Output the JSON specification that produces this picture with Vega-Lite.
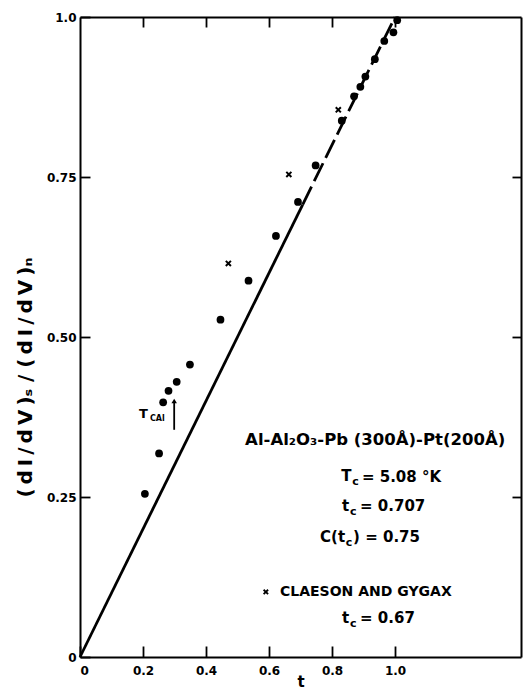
{
  "$schema": "https://vega.github.io/schema/vega-lite/v6.json",
  "width": 441,
  "height": 640,
  "autosize": {"type": "none"},
  "padding": {"left": 80, "top": 17, "right": 5, "bottom": 37},
  "background": "white",
  "config": {
    "view": {"stroke": null},
    "font": "DejaVu Sans",
    "axis": {
      "domainColor": "black",
      "domainWidth": 2,
      "tickColor": "black",
      "tickWidth": 1.8,
      "grid": false,
      "labelColor": "black",
      "titleColor": "black",
      "labelFont": "DejaVu Sans",
      "labelFontWeight": "bold",
      "labelFontSize": 12,
      "titleFont": "DejaVu Sans",
      "titleFontWeight": "bold"
    }
  },
  "datasets": {
    "dots": [
      {"t": 0.206, "r": 0.255}, {"t": 0.251, "r": 0.318}, {"t": 0.264, "r": 0.398},
      {"t": 0.281, "r": 0.416}, {"t": 0.307, "r": 0.430}, {"t": 0.349, "r": 0.457},
      {"t": 0.446, "r": 0.527}, {"t": 0.535, "r": 0.588}, {"t": 0.622, "r": 0.658},
      {"t": 0.692, "r": 0.711}, {"t": 0.748, "r": 0.768}, {"t": 0.831, "r": 0.838},
      {"t": 0.870, "r": 0.876}, {"t": 0.890, "r": 0.891}, {"t": 0.906, "r": 0.907},
      {"t": 0.936, "r": 0.934}, {"t": 0.966, "r": 0.9625}, {"t": 0.995, "r": 0.976},
      {"t": 1.007, "r": 0.995}
    ],
    "crosses": [
      {"t": 0.471, "r": 0.615}, {"t": 0.663, "r": 0.754}, {"t": 0.820, "r": 0.855}
    ],
    "theory": [
      {"t": 0, "r": 0, "seg": "solid"}, {"t": 0.707, "r": 0.707, "seg": "solid"},
      {"t": 0.707, "r": 0.707, "seg": "dashed"}, {"t": 1.0, "r": 1.0, "seg": "dashed"}
    ],
    "arrow": [
      {"t": 0.299, "r": 0.355, "r2": 0.400}
    ],
    "notes": [
      {"t": 0.937, "r": 0.339, "text": "Al-Al₂O₃-Pb (300Å)-Pt(200Å)", "kind": "center"},
      {"t": 0.829, "r": 0.283, "text": "T", "kind": "main"},
      {"t": 0.864, "r": 0.273, "text": "c", "kind": "sub"},
      {"t": 0.895, "r": 0.281, "text": "= 5.08 °K", "kind": "main"},
      {"t": 0.832, "r": 0.236, "text": "t", "kind": "main"},
      {"t": 0.857, "r": 0.227, "text": "c", "kind": "sub"},
      {"t": 0.889, "r": 0.236, "text": "= 0.707", "kind": "main"},
      {"t": 0.762, "r": 0.1875, "text": "C(t", "kind": "main"},
      {"t": 0.844, "r": 0.178, "text": "c", "kind": "sub"},
      {"t": 0.867, "r": 0.1875, "text": ") = 0.75", "kind": "main"},
      {"t": 0.635, "r": 0.1016, "text": "CLAESON AND GYGAX", "kind": "legend"},
      {"t": 0.832, "r": 0.061, "text": "t", "kind": "main"},
      {"t": 0.857, "r": 0.052, "text": "c", "kind": "sub"},
      {"t": 0.889, "r": 0.061, "text": "= 0.67", "kind": "main"},
      {"t": 0.187, "r": 0.380, "text": "T", "kind": "tcal"},
      {"t": 0.222, "r": 0.372, "text": "CAl", "kind": "tcalsub"},
      {"t": 0.590, "r": 0.1016, "text": "×", "kind": "sym"}
    ]
  },
  "layer": [
    {
      "data": {"name": "theory"},
      "transform": [{"filter": "datum.seg == 'solid'"}],
      "mark": {"type": "line", "color": "black", "strokeWidth": 2.8},
      "encoding": {
        "x": {"field": "t", "type": "quantitative", "scale": {"domain": [0, 1.4]},
          "axis": {"orient": "bottom", "values": [0, 0.2, 0.4, 0.6, 0.8, 1.0],
            "labelExpr": "datum.value == 0 ? '0' : format(datum.value, '.1f')",
            "tickSize": -11, "labelPadding": 19, "title": "t", "titleFontSize": 15, "titlePadding": -2}},
        "y": {"field": "r", "type": "quantitative", "scale": {"domain": [0, 1]},
          "axis": {"orient": "left", "values": [0, 0.25, 0.5, 0.75, 1.0],
            "labelExpr": "datum.value == 0 ? '0' : (datum.value == 1 ? '1.0' : format(datum.value, '.2f'))",
            "tickSize": -10, "labelPadding": 14,
            "title": "(\u2009d\u2009I\u2009/\u2009d\u2009V\u2009)ₛ / (\u2009d\u2009I\u2009/\u2009d\u2009V\u2009)ₙ",
            "titleFontSize": 20, "titleX": -55, "titleY": 360, "titleBaseline": "middle", "titleAlign": "center", "titleAngle": -90}}
      }
    },
    {
      "data": {"name": "theory"},
      "transform": [{"filter": "datum.seg == 'dashed'"}],
      "mark": {"type": "line", "color": "black", "strokeWidth": 2.8, "strokeDash": [20, 6]},
      "encoding": {
        "x": {"field": "t", "type": "quantitative", "scale": {"domain": [0, 1.4]},
          "axis": {"orient": "top", "values": [0.2, 0.4, 0.6, 0.8, 1.0], "labels": false, "tickSize": -10, "title": null}},
        "y": {"field": "r", "type": "quantitative", "scale": {"domain": [0, 1]},
          "axis": {"orient": "right", "values": [0.25, 0.5, 0.75], "labels": false, "tickSize": -9, "title": null}}
      }
    },
    {
      "data": {"name": "dots"},
      "mark": {"type": "point", "shape": "circle", "filled": true, "color": "black", "opacity": 1, "size": 60},
      "encoding": {
        "x": {"field": "t", "type": "quantitative", "scale": {"domain": [0, 1.4]}, "axis": null},
        "y": {"field": "r", "type": "quantitative", "scale": {"domain": [0, 1]}, "axis": null}
      }
    },
    {
      "data": {"name": "crosses"},
      "mark": {"type": "point", "shape": "M-1,-1L1,1M-1,1L1,-1", "filled": false, "color": "black", "strokeWidth": 2, "opacity": 1, "size": 26},
      "encoding": {
        "x": {"field": "t", "type": "quantitative", "scale": {"domain": [0, 1.4]}, "axis": null},
        "y": {"field": "r", "type": "quantitative", "scale": {"domain": [0, 1]}, "axis": null}
      }
    },
    {
      "data": {"name": "notes"},
      "transform": [{"filter": "datum.kind == 'sym'"}],
      "mark": {"type": "point", "shape": "M-1,-1L1,1M-1,1L1,-1", "filled": false, "color": "black", "strokeWidth": 1.8, "opacity": 1, "size": 20},
      "encoding": {
        "x": {"field": "t", "type": "quantitative", "scale": {"domain": [0, 1.4]}, "axis": null},
        "y": {"field": "r", "type": "quantitative", "scale": {"domain": [0, 1]}, "axis": null}
      }
    },
    {
      "data": {"name": "arrow"},
      "mark": {"type": "rule", "color": "black", "strokeWidth": 1.8},
      "encoding": {
        "x": {"field": "t", "type": "quantitative", "scale": {"domain": [0, 1.4]}, "axis": null},
        "y": {"field": "r", "type": "quantitative", "scale": {"domain": [0, 1]}, "axis": null},
        "y2": {"field": "r2"}
      }
    },
    {
      "data": {"name": "arrow"},
      "mark": {"type": "point", "shape": "triangle-up", "filled": true, "color": "black", "opacity": 1, "size": 30},
      "encoding": {
        "x": {"field": "t", "type": "quantitative", "scale": {"domain": [0, 1.4]}, "axis": null},
        "y": {"field": "r2", "type": "quantitative", "scale": {"domain": [0, 1]}, "axis": null}
      }
    },
    {
      "data": {"name": "notes"},
      "transform": [{"filter": "datum.kind == 'center'"}],
      "mark": {"type": "text", "align": "center", "baseline": "middle", "fontSize": 16.5, "fontWeight": "bold", "color": "black"},
      "encoding": {
        "x": {"field": "t", "type": "quantitative", "scale": {"domain": [0, 1.4]}, "axis": null},
        "y": {"field": "r", "type": "quantitative", "scale": {"domain": [0, 1]}, "axis": null},
        "text": {"field": "text"}
      }
    },
    {
      "data": {"name": "notes"},
      "transform": [{"filter": "datum.kind == 'main'"}],
      "mark": {"type": "text", "align": "left", "baseline": "middle", "fontSize": 15, "fontWeight": "bold", "color": "black"},
      "encoding": {
        "x": {"field": "t", "type": "quantitative", "scale": {"domain": [0, 1.4]}, "axis": null},
        "y": {"field": "r", "type": "quantitative", "scale": {"domain": [0, 1]}, "axis": null},
        "text": {"field": "text"}
      }
    },
    {
      "data": {"name": "notes"},
      "transform": [{"filter": "datum.kind == 'sub'"}],
      "mark": {"type": "text", "align": "left", "baseline": "middle", "fontSize": 11, "fontWeight": "bold", "color": "black"},
      "encoding": {
        "x": {"field": "t", "type": "quantitative", "scale": {"domain": [0, 1.4]}, "axis": null},
        "y": {"field": "r", "type": "quantitative", "scale": {"domain": [0, 1]}, "axis": null},
        "text": {"field": "text"}
      }
    },
    {
      "data": {"name": "notes"},
      "transform": [{"filter": "datum.kind == 'legend'"}],
      "mark": {"type": "text", "align": "left", "baseline": "middle", "fontSize": 14, "fontWeight": "bold", "color": "black"},
      "encoding": {
        "x": {"field": "t", "type": "quantitative", "scale": {"domain": [0, 1.4]}, "axis": null},
        "y": {"field": "r", "type": "quantitative", "scale": {"domain": [0, 1]}, "axis": null},
        "text": {"field": "text"}
      }
    },
    {
      "data": {"name": "notes"},
      "transform": [{"filter": "datum.kind == 'tcal'"}],
      "mark": {"type": "text", "align": "left", "baseline": "middle", "fontSize": 13, "fontWeight": "bold", "color": "black"},
      "encoding": {
        "x": {"field": "t", "type": "quantitative", "scale": {"domain": [0, 1.4]}, "axis": null},
        "y": {"field": "r", "type": "quantitative", "scale": {"domain": [0, 1]}, "axis": null},
        "text": {"field": "text"}
      }
    },
    {
      "data": {"name": "notes"},
      "transform": [{"filter": "datum.kind == 'tcalsub'"}],
      "mark": {"type": "text", "align": "left", "baseline": "middle", "fontSize": 8, "fontWeight": "bold", "color": "black"},
      "encoding": {
        "x": {"field": "t", "type": "quantitative", "scale": {"domain": [0, 1.4]}, "axis": null},
        "y": {"field": "r", "type": "quantitative", "scale": {"domain": [0, 1]}, "axis": null},
        "text": {"field": "text"}
      }
    }
  ],
  "resolve": {"axis": {"x": "independent", "y": "independent"}}
}
